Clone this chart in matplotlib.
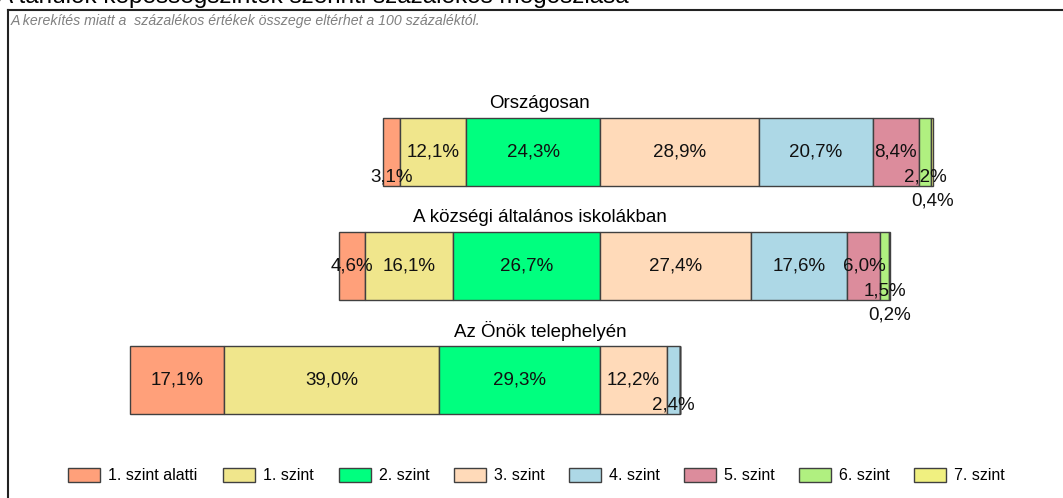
import numpy as np
import matplotlib.pyplot as plt
from matplotlib.patches import Rectangle
from matplotlib.lines import Line2D

plt.rcParams['font.family'] = ['Liberation Sans', 'DejaVu Sans']

# data
categories = ['Országosan', 'A községi általános iskolákban', 'Az Önök telephelyén']
levels = ['1. szint alatti', '1. szint', '2. szint', '3. szint',
          '4. szint', '5. szint', '6. szint', '7. szint']
below1 = [3.1, 4.6, 17.1]
level1 = [12.1, 16.1, 39.0]
level2 = [24.3, 26.7, 29.3]
level3 = [28.9, 27.4, 12.2]
level4 = [20.7, 17.6, 2.4]
level5 = [8.4, 6.0, 0.0]
level6 = [2.2, 1.5, 0.0]
level7 = [0.4, 0.2, 0.0]
colors = ['#FFA07A', '#F0E68C', '#00FF7F', '#FFDAB9',
          '#ADD8E6', '#DC8C9C', '#B0F080', '#F0F080']

series = np.array([below1, level1, level2, level3, level4, level5, level6, level7])

W, H = 1063, 498
fig = plt.figure(figsize=(W / 100, H / 100), dpi=100)

# bars are centred on the border between level 2 and level 3
px_per_pct = 5.5
zero_px = 600
row_px = 114
first_row_px = 152
ax = fig.add_axes([0, 0, 1, 1])
ax.set_xlim(-zero_px / px_per_pct, (W - zero_px) / px_per_pct)
ax.set_ylim((H - first_row_px) / row_px, -first_row_px / row_px)
ax.axis('off')

ypos = np.arange(len(categories))
left = -series[:3].sum(axis=0)
for i, lev in enumerate(levels):
    vals = series[i]
    ax.barh(ypos, vals, left=left, height=68 / row_px, color=colors[i],
            edgecolor='#404040', linewidth=1)
    for j, v in enumerate(vals):
        if v <= 0:
            continue
        dy = 0
        if v < 1:
            dy = 49
        elif v < 3.5:
            dy = 25
        ax.text(left[j] + v / 2, ypos[j] + dy / row_px,
                f'{v:.1f}'.replace('.', ',') + '%',
                ha='center', va='center', fontsize=13.5, color='#111111')
    left = left + vals

for j, cat in enumerate(categories):
    ax.text((540 - zero_px) / px_per_pct, ypos[j] - 49 / row_px, cat,
            ha='center', va='center', fontsize=13.5)

# heading (cut off at the top edge, as in the source) and frame
fig.text(-3 / W, 1 - 3 / H, 'A tanulók képességszintek szerinti százalékos megoszlása',
         ha='left', va='baseline', fontsize=17.5)
fig.lines.append(Line2D([8 / W, 8 / W], [0, 1 - 10 / H], transform=fig.transFigure,
                        color='#222222', linewidth=1.5))
fig.lines.append(Line2D([8 / W, 1], [1 - 10 / H, 1 - 10 / H], transform=fig.transFigure,
                        color='#222222', linewidth=1.5))
fig.text(11 / W, 1 - 21 / H,
         'A kerekítés miatt a  százalékos értékek összege eltérhet a 100 százaléktól.',
         ha='left', va='center', fontsize=10.2, style='italic', color='#808080')

# legend
leg_x = [68, 223, 339, 454, 569, 684, 799, 914]
for i, lev in enumerate(levels):
    x0 = leg_x[i]
    fig.patches.append(Rectangle((x0 / W, 1 - 482 / H), 32 / W, 14 / H,
                                 transform=fig.transFigure, facecolor=colors[i],
                                 edgecolor='#404040', linewidth=1))
    fig.text((x0 + 40) / W, 1 - 475 / H, lev, ha='left', va='center', fontsize=11.5)

fig.savefig('out.png', dpi=100)
